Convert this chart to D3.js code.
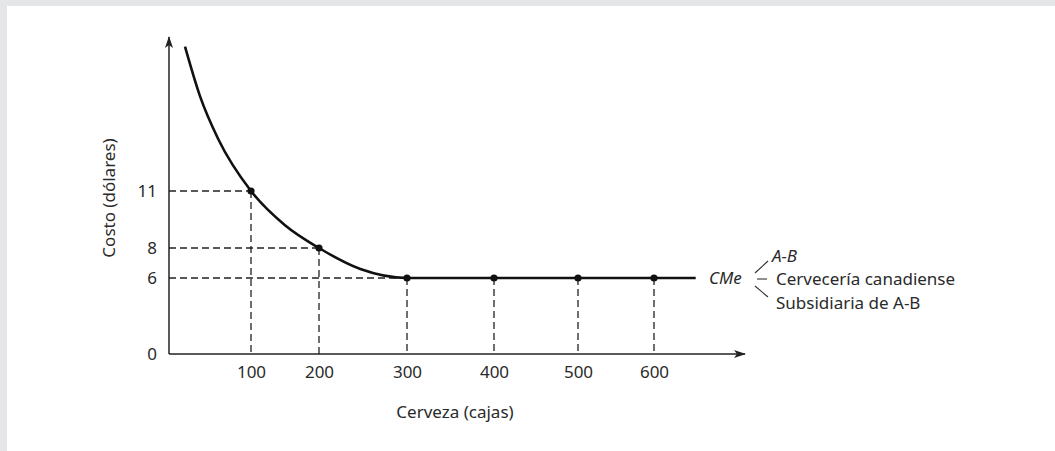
<!DOCTYPE html>
<html>
<head>
<meta charset="utf-8">
<script src="https://cdn.jsdelivr.net/npm/d3@7"></script>
<style>
  html, body { margin: 0; padding: 0; background: #e5e6e8; }
  svg { display: block; }
  text { font-family: "Noto Sans", Lato, sans-serif; fill: #2a2a2a; }
</style>
</head>
<body>
<script>
// cost curve (CMe): [cajas, dolares]
var curveX = [19.5, 38, 60, 100, 150, 200, 247, 300, 400, 500, 600, 655];
var curveY = [18.5, 15.9, 13.7, 11, 9.2, 8, 6.6, 6, 6, 6, 6, 6];

// marked points on the curve
var pointX = [100, 200, 300, 400, 500, 600];
var pointY = [11, 8, 6, 6, 6, 6];

var xTicks = [100, 200, 300, 400, 500, 600];
var yTicks = [0, 6, 8, 11];

var legendItems = ['A-B', 'Cervecería canadiense', 'Subsidiaria de A-B'];

var width = 1055, height = 451;
var fontSize = '17px';

var svg = d3.select('body').append('svg')
    .attr('width', width)
    .attr('height', height);

// white panel, grey strip on top and left like the source
svg.append('rect')
    .attr('x', 7).attr('y', 6)
    .attr('width', width - 7).attr('height', height - 6)
    .attr('fill', '#fff');

// the drawing is not to scale, so use piecewise scales
var x = d3.scaleLinear()
    .domain([0, 100, 200, 300, 400, 500, 600, 720])
    .range([169, 251, 319, 407, 494, 578, 654, 745]);

var y = d3.scaleLinear()
    .domain([0, 6, 8, 11, 19])
    .range([354, 278, 248, 191, 37]);

var defs = svg.append('defs');
defs.append('marker')
    .attr('id', 'arrow')
    .attr('viewBox', '0 0 12 10')
    .attr('refX', 11).attr('refY', 5)
    .attr('markerWidth', 12).attr('markerHeight', 10)
    .attr('markerUnits', 'userSpaceOnUse')
    .attr('orient', 'auto')
    .append('path')
    .attr('d', 'M0,1 L12,5 L0,9 L3,5 Z')
    .attr('fill', '#222');

// dashed guide lines
var guides = svg.append('g')
    .attr('stroke', '#222')
    .attr('stroke-width', 1.3)
    .attr('stroke-dasharray', '7,4');

pointX.forEach(function(px, i){
    guides.append('line')
        .attr('x1', x(px)).attr('x2', x(px))
        .attr('y1', y(pointY[i])).attr('y2', y(0));
});
[0, 1, 2].forEach(function(i){
    guides.append('line')
        .attr('x1', x(0)).attr('x2', x(pointX[i]))
        .attr('y1', y(pointY[i])).attr('y2', y(pointY[i]));
});

// axes
svg.append('line')
    .attr('x1', x(0)).attr('y1', y(0))
    .attr('x2', x(720)).attr('y2', y(0))
    .attr('stroke', '#222').attr('stroke-width', 1.5)
    .attr('marker-end', 'url(#arrow)');
svg.append('line')
    .attr('x1', x(0)).attr('y1', y(0))
    .attr('x2', x(0)).attr('y2', y(19))
    .attr('stroke', '#222').attr('stroke-width', 1.5)
    .attr('marker-end', 'url(#arrow)');

var xAxis = svg.append('g')
    .attr('transform', 'translate(0,' + y(0) + ')')
    .call(d3.axisBottom(x).tickValues(xTicks).tickSize(0).tickPadding(12));
var yAxis = svg.append('g')
    .attr('transform', 'translate(' + x(0) + ',0)')
    .call(d3.axisLeft(y).tickValues(yTicks).tickSize(0).tickPadding(12));

[xAxis, yAxis].forEach(function(a){
    a.select('.domain').remove();
    a.selectAll('text')
        .style('font-family', '"Noto Sans", Lato, sans-serif')
        .style('font-size', fontSize)
        .attr('fill', '#2a2a2a');
});

// the curve
var line = d3.line()
    .x(function(d, i){ return x(curveX[i]); })
    .y(function(d, i){ return y(curveY[i]); })
    .curve(d3.curveMonotoneX);

svg.append('path')
    .attr('d', line(curveX))
    .attr('fill', 'none')
    .attr('stroke', '#111')
    .attr('stroke-width', 2.6);

svg.selectAll('circle.pt')
    .data(pointX)
    .enter().append('circle')
    .attr('class', 'pt')
    .attr('cx', function(d){ return x(d); })
    .attr('cy', function(d, i){ return y(pointY[i]); })
    .attr('r', 3.6)
    .attr('fill', '#111');

// axis titles
svg.append('text')
    .attr('x', 455).attr('y', 418)
    .attr('text-anchor', 'middle')
    .style('font-size', fontSize)
    .text('Cerveza (cajas)');

svg.append('text')
    .attr('transform', 'translate(115,198) rotate(-90)')
    .attr('text-anchor', 'middle')
    .style('font-size', fontSize)
    .text('Costo (dólares)');

// legend for CMe
var ly = y(6);
var lg = svg.append('g').attr('transform', 'translate(709,' + ly + ')');
lg.append('text')
    .attr('x', 0).attr('y', 6)
    .style('font-size', fontSize)
    .style('font-style', 'italic')
    .text('CMe');

lg.append('line').attr('x1', 46).attr('y1', -5).attr('x2', 59).attr('y2', -17)
    .attr('stroke', '#333').attr('stroke-width', 1.1);
lg.append('line').attr('x1', 48).attr('y1', 1).attr('x2', 58).attr('y2', 1)
    .attr('stroke', '#333').attr('stroke-width', 1.1);
lg.append('line').attr('x1', 46).attr('y1', 8).attr('x2', 59).attr('y2', 19)
    .attr('stroke', '#333').attr('stroke-width', 1.1);

var legendY = [-16, 7, 31];
var legendX = [63, 67, 67];
lg.selectAll('text.item')
    .data(legendItems)
    .enter().append('text')
    .attr('class', 'item')
    .attr('x', function(d, i){ return legendX[i]; })
    .attr('y', function(d, i){ return legendY[i]; })
    .style('font-size', fontSize)
    .style('font-style', function(d, i){ return i === 0 ? 'italic' : 'normal'; })
    .text(function(d){ return d; });
</script>
</body>
</html>
